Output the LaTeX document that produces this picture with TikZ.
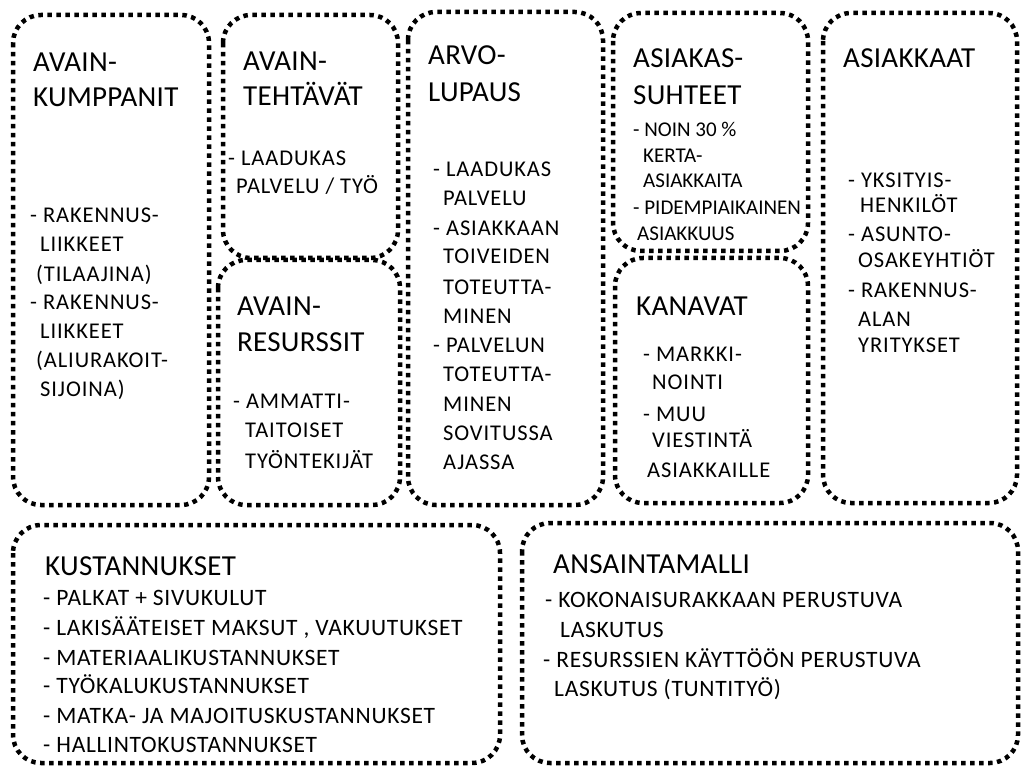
\documentclass[tikz,border=0pt]{standalone}
\usepackage{fontspec}
\setmainfont{Carlito}
\newfontfamily\headfont[LetterSpace=1]{Carlito}
\newfontfamily\bodyfont[LetterSpace=4]{Carlito}
\newfontfamily\smallfont{Carlito}
\newfontfamily\costfont[LetterSpace=3]{Carlito}
\usetikzlibrary{positioning}

\begin{document}
\begin{tikzpicture}[x=1pt, y=-1pt,
    canvasbox/.style={line width=4.5pt, dash pattern=on 4.5pt off 4.5pt, rounded corners=28pt},
    headtxt/.style={anchor=base west, inner sep=0pt, font=\headfont\fontsize{29}{32}\selectfont},
    bodytxt/.style={anchor=base west, inner sep=0pt, font=\bodyfont\fontsize{22.5}{24}\selectfont},
    smalltxt/.style={anchor=base west, inner sep=0pt, font=\smallfont\fontsize{21}{24}\selectfont},
    costtxt/.style={anchor=base west, inner sep=0pt, font=\costfont\fontsize{23.5}{26}\selectfont}]
    \useasboundingbox (0,0) rectangle (1021,767);
    % canvas blocks: left / top / right / bottom
    \foreach \xa/\ya/\xb/\yb in {%
        13/15/209/505, 223/15/398/258, 218/260/400/505,
        408/12/603/505, 613/13/808/251, 615/258/808/503,
        823/13/1017/503, 13/525/500/763, 522/523/1018/763%
    }{
        \draw[canvasbox] (\xa,\ya) rectangle (\xb,\yb);
    }
    % avainkumppanit
    \foreach \x/\y/\txt [count=\i] in {33/72/AVAIN-, 33/107/KUMPPANIT}{
        \node[headtxt] (kp-h\i) at (\x,\y) {\txt};
    }
    \foreach \x/\y/\txt [count=\i] in {%
        30/223/- RAKENNUS-, 40/252/LIIKKEET, 36/282/(TILAAJINA),
        30/310/- RAKENNUS-, 40/339/LIIKKEET, 36/368/(ALIURAKOIT-,
        40/397/SIJOINA)%
    }{
        \node[bodytxt] (kp-b\i) at (\x,\y) {\txt};
    }
    % avaintehtavat
    \foreach \x/\y/\txt [count=\i] in {243/71/AVAIN-, 243/106/TEHTÄVÄT}{
        \node[headtxt] (kt-h\i) at (\x,\y) {\txt};
    }
    \foreach \x/\y/\txt [count=\i] in {228/166/{- LAADUKAS}, 236/194/{PALVELU / TYÖ}}{
        \node[bodytxt] (kt-b\i) at (\x,\y) {\txt};
    }
    % avainresurssit
    \foreach \x/\y/\txt [count=\i] in {237/316/AVAIN-, 237/352/RESURSSIT}{
        \node[headtxt] (kr-h\i) at (\x,\y) {\txt};
    }
    \foreach \x/\y/\txt [count=\i] in {233/409/- AMMATTI-, 245/438/TAITOISET, 245/468/TYÖNTEKIJÄT}{
        \node[bodytxt] (kr-b\i) at (\x,\y) {\txt};
    }
    % arvolupaus
    \foreach \x/\y/\txt [count=\i] in {428/65/ARVO-, 428/102/LUPAUS}{
        \node[headtxt] (al-h\i) at (\x,\y) {\txt};
    }
    \foreach \x/\y/\txt [count=\i] in {%
        433/177/- LAADUKAS, 443/206/PALVELU, 433/236/- ASIAKKAAN,
        443/264/TOIVEIDEN, 443/295/TOTEUTTA-, 443/324/MINEN,
        433/353/- PALVELUN, 443/382/TOTEUTTA-, 443/412/MINEN,
        443/441/SOVITUSSA, 443/470/AJASSA%
    }{
        \node[bodytxt] (al-b\i) at (\x,\y) {\txt};
    }
    % asiakassuhteet
    \foreach \x/\y/\txt [count=\i] in {633/68/ASIAKAS-, 633/105/SUHTEET}{
        \node[headtxt] (as-h\i) at (\x,\y) {\txt};
    }
    \foreach \x/\y/\txt [count=\i] in {%
        633/137/- NOIN 30 \%, 643/163/KERTA-, 643/188/ASIAKKAITA,
        633/215/- PIDEMPIAIKAINEN, 637/241/ASIAKKUUS%
    }{
        \node[smalltxt] (as-b\i) at (\x,\y) {\txt};
    }
    % kanavat
    \node[headtxt] (kn-h1) at (636,316) {KANAVAT};
    \foreach \x/\y/\txt [count=\i] in {%
        643/362/- MARKKI-, 652/390/NOINTI, 643/421/- MUU,
        652/448/VIESTINTÄ, 647/478/ASIAKKAILLE%
    }{
        \node[bodytxt] (kn-b\i) at (\x,\y) {\txt};
    }
    % asiakkaat
    \node[headtxt] (ak-h1) at (843,68) {ASIAKKAAT};
    \foreach \x/\y/\txt [count=\i] in {%
        848/188/- YKSITYIS-, 860/213/HENKILÖT, 848/242/- ASUNTO-,
        858/268/OSAKEYHTIÖT, 848/298/- RAKENNUS-, 858/327/ALAN,
        858/353/YRITYKSET%
    }{
        \node[bodytxt] (ak-b\i) at (\x,\y) {\txt};
    }
    % kustannukset
    \node[headtxt] (ku-h1) at (45,575) {KUSTANNUKSET};
    \foreach \x/\y/\txt [count=\i] in {%
        43/605/- PALKAT + SIVUKULUT, 43/635/{- LAKISÄÄTEISET MAKSUT , VAKUUTUKSET},
        43/665/- MATERIAALIKUSTANNUKSET, 43/693/- TYÖKALUKUSTANNUKSET,
        43/723/- MATKA- JA MAJOITUSKUSTANNUKSET, 43/752/- HALLINTOKUSTANNUKSET%
    }{
        \node[costtxt] (ku-b\i) at (\x,\y) {\txt};
    }
    % ansaintamalli
    \node[headtxt] (am-h1) at (553,573) {ANSAINTAMALLI};
    \foreach \x/\y/\txt [count=\i] in {%
        545/607/- KOKONAISURAKKAAN PERUSTUVA, 560/637/LASKUTUS,
        543/667/- RESURSSIEN KÄYTTÖÖN PERUSTUVA, 554/696/LASKUTUS (TUNTITYÖ)%
    }{
        \node[costtxt] (am-b\i) at (\x,\y) {\txt};
    }
\end{tikzpicture}
\end{document}
